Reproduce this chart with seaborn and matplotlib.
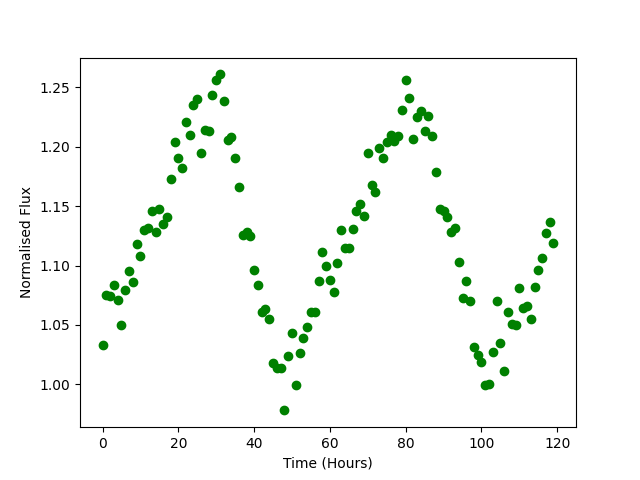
import matplotlib
matplotlib.use("Agg")
import matplotlib.pyplot as plt
import seaborn as sns
import numpy as np
import pandas as pd

time_hours = list(range(120))
flux = [
    1.033, 1.075, 1.074, 1.084, 1.071, 1.050, 1.079, 1.095, 1.086, 1.118,
    1.108, 1.130, 1.132, 1.146, 1.128, 1.148, 1.135, 1.141, 1.173, 1.204,
    1.191, 1.182, 1.221, 1.210, 1.235, 1.240, 1.195, 1.214, 1.213, 1.244,
    1.256, 1.261, 1.239, 1.206, 1.208, 1.191, 1.166, 1.126, 1.128, 1.125,
    1.096, 1.084, 1.061, 1.063, 1.055, 1.018, 1.014, 1.014, 0.978, 1.024,
    1.043, 0.999, 1.026, 1.039, 1.048, 1.061, 1.061, 1.087, 1.111, 1.100,
    1.088, 1.078, 1.102, 1.130, 1.115, 1.115, 1.131, 1.146, 1.152, 1.142,
    1.195, 1.168, 1.162, 1.199, 1.191, 1.204, 1.210, 1.205, 1.209, 1.231,
    1.256, 1.241, 1.207, 1.225, 1.230, 1.213, 1.226, 1.209, 1.179, 1.148,
    1.146, 1.141, 1.128, 1.132, 1.103, 1.073, 1.087, 1.070, 1.031, 1.025,
    1.019, 0.999, 1.000, 1.027, 1.070, 1.035, 1.011, 1.061, 1.051, 1.050,
    1.081, 1.064, 1.066, 1.055, 1.082, 1.096, 1.106, 1.127, 1.137, 1.119,
]

df = pd.DataFrame({"t": time_hours, "f": flux})

fig, ax = plt.subplots(figsize=(6.4, 4.8), dpi=100)
sns.scatterplot(data=df, x="t", y="f", color="green", s=36,
                edgecolor="green", linewidth=1, ax=ax)
ax.set_xlabel("Time (Hours)")
ax.set_ylabel("Normalised Flux")
fig.savefig("out.png", dpi=100)
